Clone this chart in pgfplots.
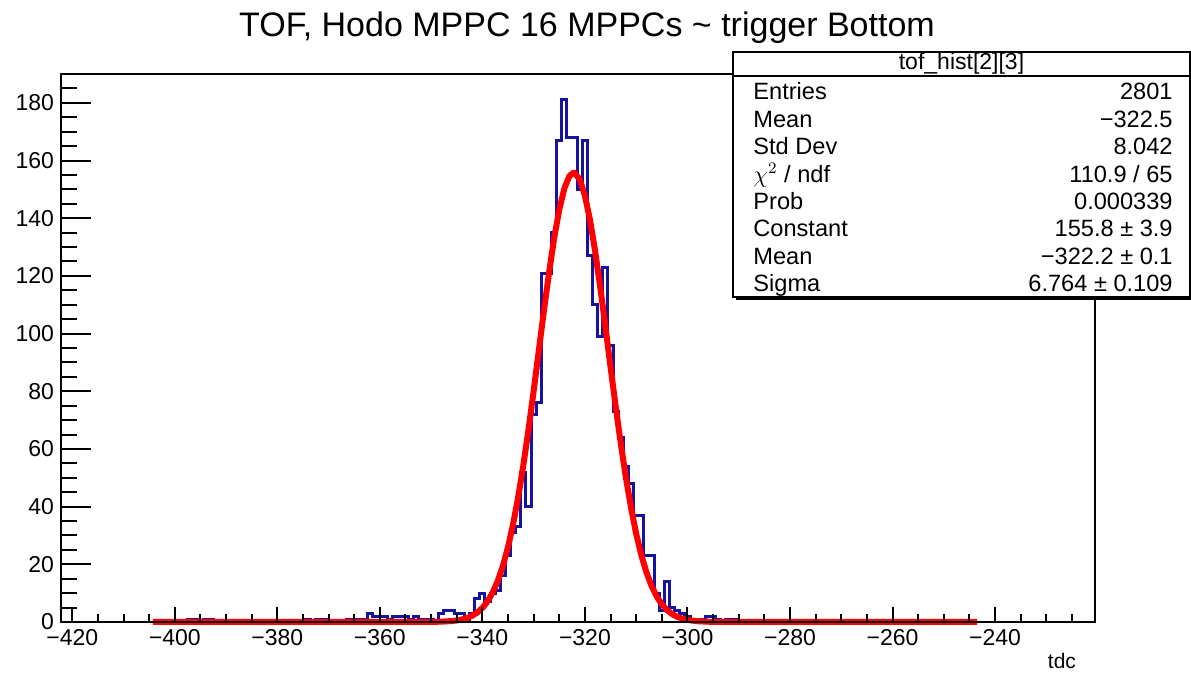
\documentclass[border=0pt]{standalone}
\usepackage{fontspec}
\setmainfont{Liberation Sans}
\usepackage{pgfplots}
\pgfplotsset{compat=1.18}
\definecolor{histblue}{RGB}{20,20,160}
\definecolor{fitred}{RGB}{255,0,0}

% frame shared by the two overlaid axes (1px of the reference = 0.5pt)
\pgfplotsset{rootframe/.style={
  at={(0pt,0pt)}, anchor=south west,
  scale only axis, width=517pt, height=274pt,
  xmin=-422.2, xmax=-220.5, ymin=0, ymax=190,
  axis line style={line width=1.1pt},
  tick style={line width=1pt, black},
  tick align=inside, tick pos=left,
  ticklabel style={font=\fontsize{11.5}{13}\selectfont},
  /pgf/number format/assume math mode=true,
  clip=false, axis on top,
}}

\begin{document}
\begin{tikzpicture}
\useasboundingbox (-30.5pt,-25.5pt) rectangle (565pt,311pt);

\begin{axis}[rootframe,
  xtick={-420,-400,-380,-360,-340,-320,-300,-280,-260,-240},
  xticklabels={−420,−400,−380,−360,−340,−320,−300,−280,−260,−240},
  minor xtick={-420,-415,...,-225},
  ytick=\empty,
  major tick length=7.5pt, minor tick length=4pt,
]
% histogram tof_hist[2][3], bin width 1, points are left bin edges
\addplot[const plot mark left, histblue, line width=1.5pt, mark=none] coordinates {
(-397.5,0) (-397.5,1) (-395.5,0) (-394.5,1) (-392.5,0)
(-374.5,1) (-373.5,0) (-372.5,1) (-370.5,0)
(-366.5,1) (-365.5,0) (-364.5,1) (-363.5,1) (-362.5,3) (-361.5,2) (-360.5,2)
(-359.5,2) (-358.5,1) (-357.5,2) (-356.5,2) (-355.5,2) (-354.5,1) (-353.5,2)
(-352.5,1) (-351.5,1) (-350.5,1) (-349.5,0) (-348.5,3) (-347.5,4) (-346.5,4)
(-345.5,3) (-344.5,3) (-343.5,1) (-342.5,3) (-341.5,8) (-340.5,10)
(-339.5,7) (-338.5,10) (-337.5,11) (-336.5,16) (-335.5,23) (-334.5,31)
(-333.5,33) (-332.5,52) (-331.5,40) (-330.5,72) (-329.5,76) (-328.5,121)
(-327.5,121) (-326.5,135) (-325.5,167) (-324.5,181) (-323.5,168) (-322.5,168)
(-321.5,150) (-320.5,167) (-319.5,127) (-318.5,110) (-317.5,99) (-316.5,123)
(-315.5,96) (-314.5,73) (-313.5,64) (-312.5,54) (-311.5,48) (-310.5,37)
(-309.5,37) (-308.5,23) (-307.5,23) (-306.5,10) (-305.5,4) (-304.5,14)
(-303.5,5) (-302.5,4) (-301.5,3) (-300.5,2) (-299.5,1) (-298.5,0)
(-297.5,1) (-296.5,2) (-295.5,2) (-294.5,1) (-293.5,0) (-292.5,1) (-291.5,1)
(-290.5,0)
};
% gaus fit: Constant 155.8, Mean -322.2, Sigma 6.764 (tabulated)
\addplot[fitred, line width=3pt, line join=round, mark=none] coordinates {
(-404.3,0) (-352,0.01) (-350,0.03) (-348,0.11) (-346,0.32) (-345,0.53)
(-344,0.87) (-343,1.38) (-342,2.15) (-341,3.27) (-340,4.88) (-339,7.12)
(-338,10.18) (-337,14.22) (-336,19.44) (-335,26.0) (-334,34.0) (-333,43.5)
(-332,54.5) (-331,66.8) (-330,80.1) (-329,94.0) (-328,107.9) (-327,121.1)
(-326,133.1) (-325,143.0) (-324,150.4) (-323,154.7) (-322.2,155.8)
(-322,155.7) (-321,153.4) (-320,147.8) (-319,139.3) (-318,128.5)
(-317,115.9) (-316,102.4) (-315,88.4) (-314,74.7) (-313,61.8) (-312,50.0)
(-311,39.6) (-310,30.6) (-309,23.2) (-308,17.2) (-307,12.5) (-306,8.85)
(-305,6.14) (-304,4.17) (-303,2.77) (-302,1.80) (-301,1.15) (-300,0.71)
(-298,0.26) (-296,0.09) (-294,0.03) (-292,0.01) (-243.5,0)
};
\end{axis}

\begin{axis}[rootframe,
  xtick=\empty,
  ytick={0,20,...,180},
  minor ytick={5,10,...,185},
  major tick length=15pt, minor tick length=8pt,
]
\end{axis}

% title and axis label
\node[anchor=base, font=\fontsize{17}{20}\selectfont] at (263pt,292.7pt)
  {TOF, Hodo MPPC 16 MPPCs \textasciitilde\ trigger Bottom};
\node[anchor=base east, font=\fontsize{10.5}{12}\selectfont] at (511pt,-23.5pt) {tdc};

% statistics box
\fill[black] (337.5pt,161pt) rectangle (566pt,283.5pt);
\filldraw[fill=white, draw=black, line width=0.9pt] (336pt,162.5pt) rectangle (564.5pt,285pt);
\draw[line width=0.9pt] (336pt,273pt) -- (564.5pt,273pt);
\node[font=\fontsize{11.5}{13}\selectfont] at (450.25pt,279pt) {tof\_hist[2][3]};
\begin{scope}[every node/.style={font=\fontsize{11.8}{13}\selectfont, inner sep=0pt}]
\node[anchor=base west] at (346pt,261pt) {Entries};
\node[anchor=base east] at (556pt,261pt) {2801};
\node[anchor=base west] at (346pt,247.3pt) {Mean};
\node[anchor=base east] at (556pt,247.3pt) {−322.5};
\node[anchor=base west] at (346pt,233.6pt) {Std Dev};
\node[anchor=base east] at (556pt,233.6pt) {8.042};
\node[anchor=base west] at (346pt,219.9pt) {$\chi^{2}$ / ndf};
\node[anchor=base east] at (556pt,219.9pt) {110.9 / 65};
\node[anchor=base west] at (346pt,206.2pt) {Prob};
\node[anchor=base east] at (556pt,206.2pt) {0.000339};
\node[anchor=base west] at (346pt,192.5pt) {Constant};
\node[anchor=base east] at (556pt,192.5pt) {155.8 ± 3.9};
\node[anchor=base west] at (346pt,178.8pt) {Mean};
\node[anchor=base east] at (556pt,178.8pt) {−322.2 ± 0.1};
\node[anchor=base west] at (346pt,165.1pt) {Sigma};
\node[anchor=base east] at (556pt,165.1pt) {6.764 ± 0.109};
\end{scope}
\end{tikzpicture}
\end{document}
